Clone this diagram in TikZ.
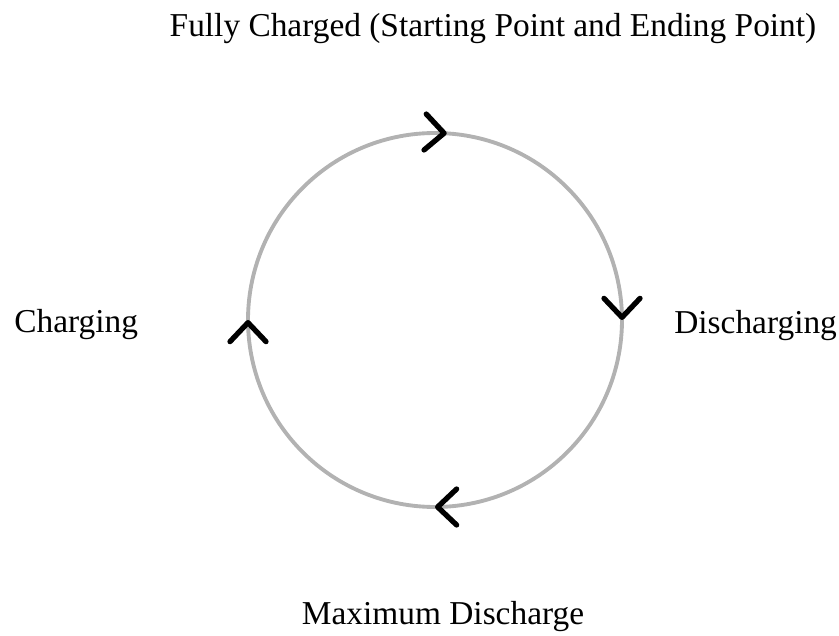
\documentclass[tikz,border=0pt]{standalone}
\usepackage{fontspec}
\setmainfont{Liberation Serif}
\usetikzlibrary{arrows.meta,decorations.markings}
\tikzset{
  barb/.tip={Straight Barb[length=3.8mm,width=7.2mm,line width=3pt,round,color=black]},
  ring/.style={draw=gray!60,line width=2.2pt,
    postaction={decorate,decoration={markings,
      mark=at position 0.125 with {\arrow{barb}},
      mark=at position 0.375 with {\arrow{barb}},
      mark=at position 0.625 with {\arrow{barb}},
      mark=at position 0.885 with {\arrow{barb}}}}},
  lbl/.style={font=\fontsize{19}{22}\selectfont,inner sep=0pt}
}

\begin{document}
\begin{tikzpicture}[x=0.02cm,y=0.02cm]
  \useasboundingbox (0,0) rectangle (839,636);

  % ---- cycle ----
  \coordinate (ctr) at (435,316);
  \path[ring] (ctr) ++(45:187) arc[start angle=45,end angle=-315,radius=187];

  % ---- labels ----
  \node[lbl,anchor=base] (full) at (493,599) {Fully Charged (Starting Point and Ending Point)};
  \node[lbl,anchor=base west] (chg) at (14,303) {Charging};
  \node[lbl,anchor=base west] (dis) at (674,302) {Discharging};
  \node[lbl,anchor=base] (maxd) at (443,11) {Maximum Discharge};
\end{tikzpicture}
\end{document}
